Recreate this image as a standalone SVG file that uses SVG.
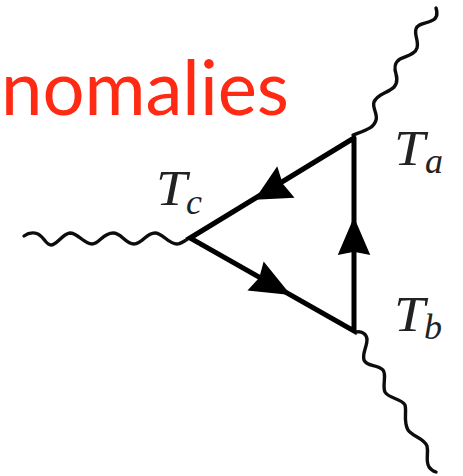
<svg xmlns="http://www.w3.org/2000/svg" width="463" height="476" viewBox="0 0 463 476">
<defs>
<style>
.wave{fill:none;stroke:#111;stroke-width:3.4;stroke-linecap:round;stroke-linejoin:round}
.line{fill:none;stroke:#000;stroke-width:5;stroke-linecap:round;stroke-linejoin:miter}
.head{fill:#000;stroke:#000;stroke-width:1.5;stroke-linejoin:miter;stroke-miterlimit:8}
.math{font-family:"Liberation Serif","DejaVu Serif",serif;font-style:italic;fill:#222}
.big{font-size:50px}
.sub{font-size:36px}
</style>
<filter id="soft" x="-5%" y="-5%" width="110%" height="110%"><feGaussianBlur stdDeviation="0.7"/></filter>
</defs>
<rect width="463" height="476" fill="#fff"/>
<g id="title"><text x="1" y="115" font-family="Lato,'Open Sans',sans-serif" font-size="76" fill="#ff2a14" textLength="288" lengthAdjust="spacingAndGlyphs">nomalies</text></g>
<g id="connectors" filter="url(#soft)">
<path class="wave" d="M436 8C438 14 437 19 431 21C425 24 418 23 416 29C414 35 419 41 417 48C415 55 406 56 400 59C395 62 394 68 396 74C398 81 396 87 390 90C384 94 377 95 374 102C372 108 378 114 376 120C374 128 366 130 353 135"/>
<path class="wave" d="M24 236C28 233 33 232 38 234C44 237 46 245 51 245C57 245 62 234 70 233C78 233 84 244 92 244C99 244 103 233 113 233C122 233 125 244 134 244C142 244 146 233 155 233C163 233 168 244 177 244C181 244 185 240 190 238"/>
<path class="wave" d="M356 332C362 331 367 334 367 340C367 347 362 353 364 360C367 367 377 364 383 370C387 375 382 385 385 392C389 399 401 398 405 405C407 412 403 421 408 430C413 437 424 438 427 446C429 454 425 460 429 467C431 470 433 471 436 472"/>
<path class="line" d="M354 138V331L190 238L354 138"/>
<path class="head" d="M256 199L277 168L282 184L293 197Z"/>
<path class="head" d="M354 219L369 254L354 251L339 254Z"/>
<path class="head" d="M289 294L264 263L260 278L249 290Z"/>
</g>
<g id="label-ta"><text class="math big" x="394" y="165" textLength="31" lengthAdjust="spacingAndGlyphs">T</text><text class="math sub" x="425" y="173">a</text></g>
<g id="label-tc"><text class="math big" x="156" y="205" textLength="31" lengthAdjust="spacingAndGlyphs">T</text><text class="math sub" x="186" y="214">c</text></g>
<g id="label-tb"><text class="math big" x="394" y="331" textLength="31" lengthAdjust="spacingAndGlyphs">T</text><text class="math sub" x="424" y="339">b</text></g>
</svg>
